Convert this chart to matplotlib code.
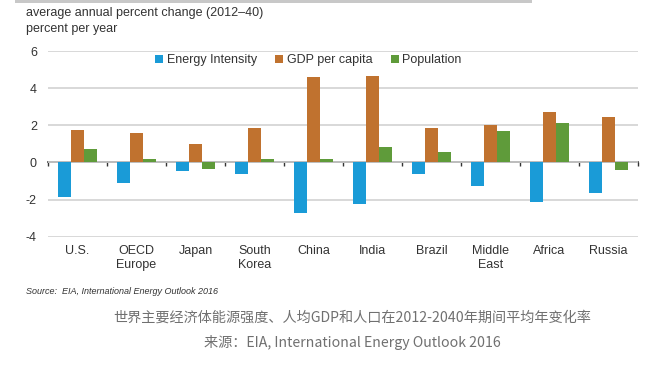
import matplotlib
matplotlib.use("Agg")
import matplotlib.pyplot as plt
import numpy as np
from matplotlib.patches import Rectangle

categories = ["U.S.", "OECD\nEurope", "Japan", "South\nKorea", "China",
              "India", "Brazil", "Middle\nEast", "Africa", "Russia"]
energy_intensity = [-1.85, -1.1, -0.47, -0.6, -2.74, -2.24, -0.65, -1.26, -2.15, -1.63]
gdp_per_capita = [1.74, 1.56, 1.0, 1.86, 4.58, 4.66, 1.88, 2.04, 2.72, 2.42]
population = [0.7, 0.21, -0.36, 0.21, 0.16, 0.84, 0.54, 1.68, 2.1, -0.41]
series_names = ["Energy Intensity", "GDP per capita", "Population"]
colors = ["#1a9bd7", "#c0722f", "#5f9b3a"]
yticks = [-4, -2, 0, 2, 4, 6]

plt.rcParams['font.family'] = ['Liberation Sans', 'DejaVu Sans']

W, H = 665, 368
fig = plt.figure(figsize=(W / 100, H / 100), dpi=100)
fig.patch.set_facecolor("white")

left, right = 48 / W, 638 / W
top, bottom = 1 - 51 / H, 1 - 236.7 / H
ax = fig.add_axes([left, bottom, right - left, top - bottom])

x = np.arange(len(categories))
bw = 0.225
data = [energy_intensity, gdp_per_capita, population]
for i, (vals, name, c) in enumerate(zip(data, series_names, colors)):
    ax.bar(x + (i - 1) * bw, vals, width=bw, color=c, label=name, zorder=3)

ax.set_xlim(-0.5, len(categories) - 0.5)
ax.set_ylim(-4, 6)
ax.set_yticks(yticks)
ax.set_yticklabels([str(t) for t in yticks], fontsize=9, color="#333333")
ax.tick_params(axis="y", length=0, pad=8)
ax.yaxis.grid(True, color="#d2d2d2", linewidth=1.2, zorder=0)
ax.set_axisbelow(True)
for s in ["top", "right", "left", "bottom"]:
    ax.spines[s].set_visible(False)

ax.set_xticks(x)
ax.set_xticklabels(categories, fontsize=9, color="#333333", linespacing=1.2)
ax.tick_params(axis="x", length=0, pad=6)

# zero axis with boundary ticks
zero_frac = (0 - (-4)) / (6 - (-4))
sec = ax.secondary_xaxis(zero_frac)
sec.set_xticks(np.arange(len(categories) + 1) - 0.5)
sec.set_xticklabels([])
sec.tick_params(axis="x", direction="out", length=3, width=1, color="#333333")
sec.spines["bottom"].set_color("#333333")
sec.spines["bottom"].set_linewidth(1.2)

leg = ax.legend(loc="center", bbox_to_anchor=(0.4415, 0.951), ncol=3, frameon=False,
                fontsize=9, handlelength=0.6, handleheight=0.6, handletextpad=0.3,
                columnspacing=1.5, borderaxespad=0)
for t in leg.get_texts():
    t.set_color("#333333")

fig.text(26 / W, 1 - 13 / H, "average annual percent change (2012\u201340)",
         fontsize=9, color="#333333", va="center", ha="left")
fig.text(26 / W, 1 - 29 / H, "percent per year",
         fontsize=9, color="#333333", va="center", ha="left")
fig.text(26 / W, 1 - 292 / H, "Source:  EIA, International Energy Outlook 2016",
         fontsize=6.5, style="italic", color="#333333", va="center", ha="left")

fig.add_artist(Rectangle((15 / W, 1 - 2.5 / H), (532 - 15) / W, 2.5 / H,
                         transform=fig.transFigure, color="#c8c8c8", lw=0))

cjk = ['Noto Sans CJK SC', 'DejaVu Sans']
fig.text(352 / W, 1 - 318 / H, "世界主要经济体能源强度、人均GDP和人口在2012-2040年期间平均年变化率",
         fontsize=10.2, color="#707070", ha="center", va="center", family=cjk)
fig.text(352 / W, 1 - 343 / H, "来源：EIA, International Energy Outlook 2016",
         fontsize=10.2, color="#707070", ha="center", va="center", family=cjk)

fig.savefig("out.png", dpi=100, facecolor="white")
